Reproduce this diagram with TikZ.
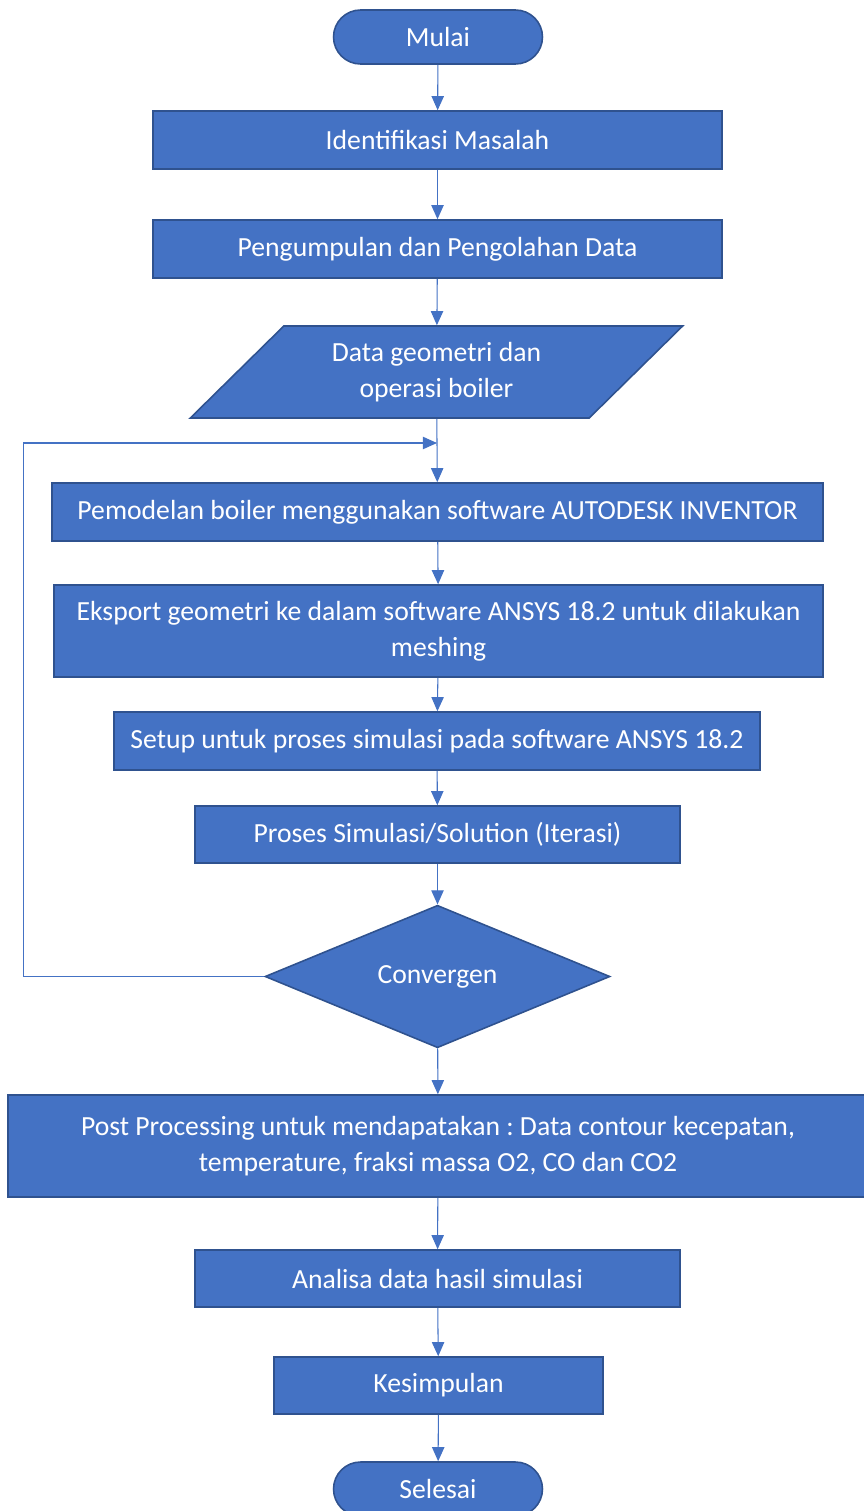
\documentclass[tikz,border=0pt]{standalone}
\usepackage{fontspec}
\setmainfont{Carlito}
\frenchspacing
\usetikzlibrary{shapes.geometric,shapes.misc,arrows.meta}
\definecolor{boxblue}{HTML}{4472C4}
\definecolor{edgeblue}{HTML}{2F528F}

\begin{document}
\begin{tikzpicture}[x=0.02cm, y=-0.02cm,
    base/.style={draw=edgeblue, line width=0.9pt, fill=boxblue, text=white,
      font=\fontsize{15.75}{20.5}\selectfont, align=center, inner sep=0pt},
    proc/.style={base, rectangle, minimum height=1.16cm},
    term/.style={base, rounded rectangle, minimum width=4.18cm, minimum height=1.08cm},
    io/.style={base, trapezium, trapezium left angle=43, trapezium right angle=137,
      trapezium stretches=true, minimum width=9.86cm, minimum height=1.84cm},
    dec/.style={base, diamond, minimum width=6.9cm, minimum height=2.72cm},
    line/.style={draw=boxblue, line width=0.6pt, -{Triangle[width=7pt,length=8pt]}}]
        \useasboundingbox (0,0) rectangle (863,1511);

        % Mulai dan tahap awal
        \node[term] (mulai) at (438,37) {Mulai};
        \node[proc, minimum width=11.38cm] (ident) at (437.5,140) {Identifikasi Masalah};
        \node[proc, minimum width=11.38cm] (kumpul) at (437.5,249) {Pengumpulan dan Pengolahan Data};
        \node[io] (data) at (436.5,372) {Data geometri dan\\operasi boiler};

        % Pemodelan dan simulasi
        \node[proc, minimum width=15.42cm] (model) at (437.5,512)
            {Pemodelan boiler menggunakan software AUTODESK INVENTOR};
        \node[proc, minimum width=15.38cm, minimum height=1.84cm] (ekspor) at (438.5,631)
            {Eksport geometri ke dalam software ANSYS 18.2 untuk dilakukan\\meshing};
        \node[proc, minimum width=12.92cm] (setup) at (437,741)
            {Setup untuk proses simulasi pada software ANSYS 18.2};
        \node[proc, minimum width=9.7cm, minimum height=1.14cm] (proses) at (437.5,834.5)
            {Proses Simulasi/Solution (Iterasi)};
        \node[dec] (konv) at (437.5,976.5) {Convergen};

        % Hasil
        \node[proc, minimum width=17.2cm, minimum height=2.04cm] (post) at (438,1146)
            {Post Processing untuk mendapatakan : Data contour kecepatan,\\temperature, fraksi massa O2, CO dan CO2};
        \node[proc, minimum width=9.7cm, minimum height=1.14cm] (analisa) at (437.5,1278.5)
            {Analisa data hasil simulasi};
        \node[proc, minimum width=6.58cm, minimum height=1.14cm] (simpul) at (438.5,1385.5) {Kesimpulan};
        \node[term] (selesai) at (438,1489) {Selesai};

        % Panah alur
        \draw[line] (mulai) -- (ident);
        \draw[line] (ident) -- (kumpul);
        \draw[line] (kumpul) -- (data);
        \draw[line] (data) -- (model);
        \draw[line] (model) -- (ekspor);
        \draw[line] (ekspor) -- (setup);
        \draw[line] (setup) -- (proses);
        \draw[line] (proses) -- (konv);
        \draw[line] (konv) -- (post);
        \draw[line] (post) -- (analisa);
        \draw[line] (analisa) -- (simpul);
        \draw[line] (simpul) -- (selesai);

        % Umpan balik jika belum konvergen
        \coordinate (masuk) at (437,443);
        \draw[line] (konv.west) -- ++(-241,0) |- (masuk);
\end{tikzpicture}
\end{document}
